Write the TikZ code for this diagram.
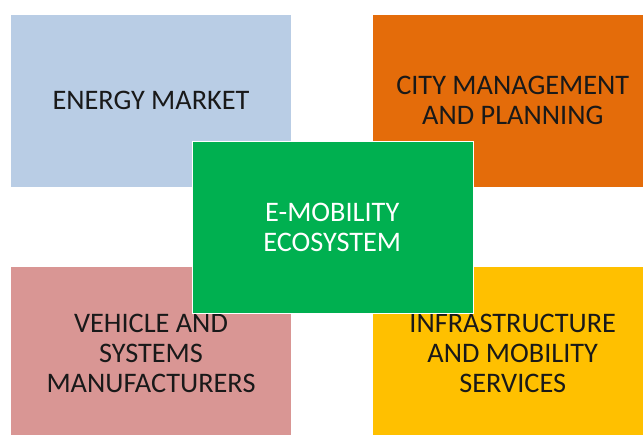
\documentclass[tikz,border=0pt]{standalone}
\usepackage{fontspec}
\setmainfont{Carlito}
\usepackage{tikz}
\usepackage{xcolor}
\usetikzlibrary{positioning}

\definecolor{emblue}{HTML}{B9CDE5}
\definecolor{emorange}{HTML}{E46C0A}
\definecolor{empink}{HTML}{D99694}
\definecolor{emyellow}{HTML}{FFC000}
\definecolor{emgreen}{HTML}{00B050}

\tikzset{
  area/.style={rectangle, draw=white, line width=0.5pt, minimum width=281pt,
    minimum height=173pt, align=center, inner sep=0pt, text=black!90,
    font=\fontsize{28.3}{30}\selectfont},
}

\begin{document}
\begin{tikzpicture}[x=1pt, y=1pt]

  \useasboundingbox (0,0) rectangle (643,435);
  \clip (0,0) rectangle (643,435);

%%%%%%%%%%%% the four actors
  \node[area, fill=emblue]   (energy)  at (151, 334.2)   {ENERGY MARKET};
  \node[area, fill=emorange] (city)    at (512.75, 334.2) {CITY MANAGEMENT\\AND PLANNING};
  \node[area, fill=empink]   (vehicle) at (151, 81.8)    {VEHICLE AND\\SYSTEMS\\MANUFACTURERS};
  \node[area, fill=emyellow] (infra)   at (512.75, 81.8) {INFRASTRUCTURE\\AND MOBILITY\\SERVICES};

%%%%%%%%%%%% ecosystem in the middle
  \node[area, fill=emgreen, text=white, minimum height=172pt] (ecosys) at (332.25, 208)
    {E-MOBILITY\\ECOSYSTEM};

\end{tikzpicture}
\end{document}
